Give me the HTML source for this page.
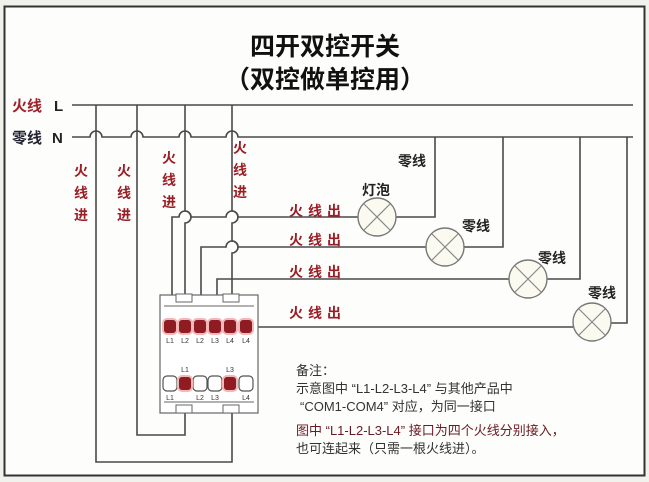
<!DOCTYPE html>
<html><head><meta charset="utf-8"><style>
html,body{margin:0;padding:0;background:#f2f2ec;}
svg{display:block}
text{font-family:"Liberation Sans","Noto Sans CJK SC",sans-serif;}
</style></head><body>
<svg width="649" height="482" viewBox="0 0 649 482" xmlns="http://www.w3.org/2000/svg">
<rect x="4.5" y="6.5" width="640" height="469" fill="#fdfdfb" stroke="#333" stroke-width="2"/>
<text x="325" y="55" text-anchor="middle" font-size="25" font-weight="bold" fill="#111">四开双控开关</text>
<text x="325" y="88" text-anchor="middle" font-size="25" font-weight="bold" fill="#111">（双控做单控用）</text>
<text x="12" y="111" font-size="15" font-weight="bold" fill="#a0202a">火线</text>
<text x="54" y="111" font-size="15" font-weight="bold" fill="#222">L</text>
<text x="12" y="143" font-size="15" font-weight="bold" fill="#223">零线</text>
<text x="52" y="143" font-size="15" font-weight="bold" fill="#222">N</text>
<g fill="none" stroke="#4a4a4a" stroke-width="1.6">
<line x1="72" y1="105" x2="633" y2="105"/>
<path d="M72 137 H90 a6 6 0 0 1 12 0 H131 a6 6 0 0 1 12 0 H179 a6 6 0 0 1 12 0 H226 a6 6 0 0 1 12 0 H633"/>
<!-- L drops -->
<path d="M96 105 V462 H232 V390"/>
<path d="M137 105 V435 H185 V390"/>
<path d="M185 105 V211 a6 6 0 0 1 0 12 V320"/>
<path d="M232 105 V211 a6 6 0 0 1 0 12 V241 a6 6 0 0 1 0 12 V320"/>
<!-- fire out -->
<path d="M172 320 V217 H179 a6 6 0 0 1 12 0 H226 a6 6 0 0 1 12 0 H358"/>
<path d="M201 320 V247 H226 a6 6 0 0 1 12 0 H426"/>
<path d="M217 320 V279 H509"/>
<path d="M252 327 H573"/>
<!-- neutrals -->
<path d="M396 217 H435 V137"/>
<path d="M464 247 H503 V137"/>
<path d="M547 279 H580 V137"/>
<path d="M611 323 H627 V137"/>
</g>
<g stroke="#777" stroke-width="1.4" fill="#fbfaf0">
<circle cx="377" cy="217" r="19"/><circle cx="445" cy="247" r="19"/><circle cx="528" cy="279" r="19"/><circle cx="592" cy="322" r="19"/>
</g>
<g stroke="#888" stroke-width="1.2">
<path d="M364 204 L390 230 M390 204 L364 230"/>
<path d="M432 234 L458 260 M458 234 L432 260"/>
<path d="M515 266 L541 292 M541 266 L515 292"/>
<path d="M579 309 L605 335 M605 309 L579 335"/>
</g>
<!-- switch box -->
<rect x="160" y="295" width="98" height="118" fill="#fff" stroke="#666" stroke-width="1.2"/>
<g fill="#fff" stroke="#666" stroke-width="1">
<rect x="176" y="294" width="16" height="8"/><rect x="223" y="294" width="16" height="8"/>
<rect x="176" y="405" width="16" height="8"/><rect x="223" y="405" width="16" height="8"/>
<line x1="164" y1="306" x2="254" y2="306"/><line x1="164" y1="402" x2="254" y2="402"/>
</g>
<g stroke="#f2b8b8" stroke-width="2" fill="#8e1c22">
<rect x="163" y="319" width="14" height="15" rx="4"/><rect x="178" y="319" width="14" height="15" rx="4"/>
<rect x="193" y="319" width="14" height="15" rx="4"/><rect x="208" y="319" width="14" height="15" rx="4"/>
<rect x="223" y="319" width="14" height="15" rx="4"/><rect x="239" y="319" width="14" height="15" rx="4"/>
</g>
<g stroke="#555" stroke-width="1.2" fill="#fff">
<rect x="163" y="376" width="14" height="15" rx="4"/><rect x="193" y="376" width="14" height="15" rx="4"/>
<rect x="208" y="376" width="14" height="15" rx="4"/><rect x="239" y="376" width="14" height="15" rx="4"/>
</g>
<g stroke="#f2b8b8" stroke-width="2" fill="#8e1c22">
<rect x="178" y="376" width="14" height="15" rx="4"/><rect x="223" y="376" width="14" height="15" rx="4"/>
</g>
<g font-size="7" fill="#333" text-anchor="middle">
<text x="170" y="343">L1</text><text x="185" y="343">L2</text><text x="200" y="343">L2</text><text x="215" y="343">L3</text><text x="230" y="343">L4</text><text x="246" y="343">L4</text>
<text x="185" y="372">L1</text><text x="230" y="372">L3</text>
<text x="170" y="400">L1</text><text x="200" y="400">L2</text><text x="215" y="400">L3</text><text x="246" y="400">L4</text>
</g>
<g font-size="14" font-weight="bold" fill="#9a1e26">
<text x="74" y="176">火</text><text x="74" y="198">线</text><text x="74" y="220">进</text>
<text x="117" y="176">火</text><text x="117" y="198">线</text><text x="117" y="220">进</text>
<text x="162" y="163">火</text><text x="162" y="185">线</text><text x="162" y="207">进</text>
<text x="233" y="153">火</text><text x="233" y="175">线</text><text x="233" y="197">进</text>
<text x="289" y="216" letter-spacing="5">火线出</text>
<text x="289" y="245" letter-spacing="5">火线出</text>
<text x="289" y="277" letter-spacing="5">火线出</text>
<text x="289" y="318" letter-spacing="5">火线出</text>
</g>
<g font-size="14" font-weight="bold" fill="#222">
<text x="398" y="166">零线</text><text x="462" y="231">零线</text><text x="538" y="263">零线</text><text x="588" y="298">零线</text>
<text x="362" y="195">灯泡</text>
</g>
<g font-size="13" fill="#333">
<text x="296" y="375">备注：</text>
<text x="296" y="393">示意图中 “L1-L2-L3-L4” 与其他产品中</text>
<text x="300" y="411">“COM1-COM4” 对应，为同一接口</text>
<text x="296" y="435" fill="#6a1a22">图中 “L1-L2-L3-L4” 接口为四个火线分别接入，</text>
<text x="296" y="453">也可连起来（只需一根火线进）。</text>
</g>
</svg>
</body></html>
